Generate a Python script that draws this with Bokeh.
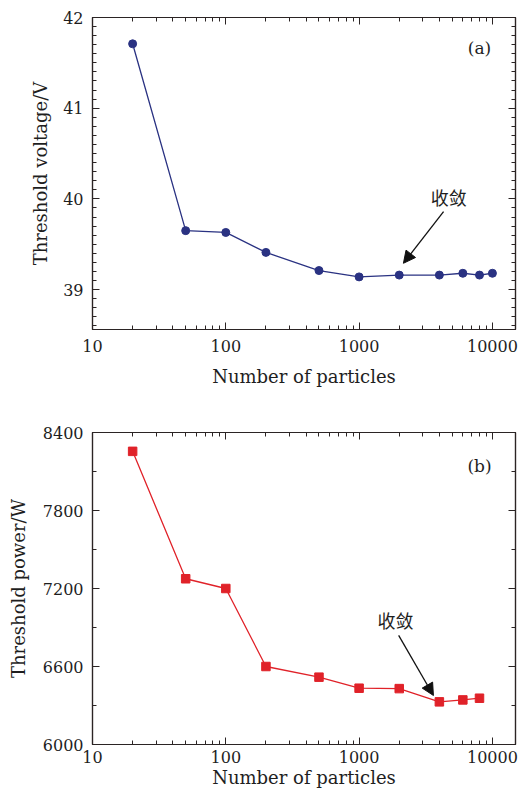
from bokeh.plotting import figure
from bokeh.models import LogAxis, LinearAxis, FixedTicker, Arrow, NormalHead, Label
from bokeh.layouts import column
from bokeh.embed import file_html
from bokeh.resources import INLINE

# ---- data ----
particles_a = [20, 50, 100, 200, 500, 1000, 2000, 4000, 6000, 8000, 10000]
voltage = [41.71, 39.65, 39.63, 39.41, 39.21, 39.14, 39.16, 39.16, 39.18, 39.16, 39.18]

particles_b = [20, 50, 100, 200, 500, 1000, 2000, 4000, 6000, 8000]
power = [8255, 7275, 7200, 6600, 6518, 6433, 6430, 6328, 6343, 6356]

x_major = [10, 100, 1000, 10000]
x_labels = {10: "10", 100: "100", 1000: "1000", 10000: "10000"}
x_minor = [m * d for d in [10, 100, 1000, 10000] for m in range(2, 10)]

ya_major = [39, 40, 41, 42]
ya_minor = [round(38.5 + 0.1 * i, 1) for i in range(0, 36)]
yb_major = [6000, 6600, 7200, 7800, 8400]
yb_minor = [6000 + 300 * i for i in range(0, 9)]

# annotation anchors (data coordinates)
arrow_a = (4300, 39.86, 2150, 39.29)
text_a = (4700, 40.02)
arrow_b = (1980, 6839, 3610, 6377)
text_b = (1875, 6954)
panel_a = (8000, 41.66)
panel_b = (8000, 8140)

AXC = "#2b2424"
TXT = "#1e1e1e"
SERIF = "DejaVu Serif"
CJK = "Noto Sans CJK SC"


def style_axis(ax, show_labels=True):
    ax.axis_line_color = AXC
    ax.axis_line_width = 1.2
    ax.major_tick_line_color = AXC
    ax.minor_tick_line_color = AXC
    ax.major_tick_in = 7
    ax.major_tick_out = 0
    ax.minor_tick_in = 4
    ax.minor_tick_out = 0
    ax.major_label_text_font = SERIF
    ax.major_label_text_font_size = "16px"
    ax.major_label_text_color = TXT
    ax.axis_label_text_font = SERIF
    ax.axis_label_text_font_size = "18px"
    ax.axis_label_text_font_style = "normal"
    ax.axis_label_text_color = TXT
    if not show_labels:
        ax.major_label_text_font_size = "1px"
        ax.major_label_text_color = None
        ax.major_label_standoff = 0


def make_fig(height, mb_top, mb_bottom, yrange, ymaj, ymin, ylabel,
             xstand, xlab_stand, ylab_stand):
    p = figure(width=526, height=height, x_axis_type="log", x_range=(10, 14900),
               y_range=yrange, output_backend="svg", toolbar_location=None,
               min_border_left=92, min_border_right=11, min_border_top=mb_top,
               min_border_bottom=mb_bottom)
    p.grid.visible = False
    p.outline_line_color = AXC
    p.outline_line_width = 1.2
    p.background_fill_color = "white"
    p.border_fill_color = "white"

    xt = FixedTicker(ticks=x_major, minor_ticks=x_minor)
    yt = FixedTicker(ticks=ymaj, minor_ticks=ymin)

    xa = p.xaxis[0]
    xa.ticker = xt
    xa.major_label_overrides = x_labels
    xa.axis_label = "Number of particles"
    style_axis(xa)
    xa.major_label_standoff = xstand
    xa.axis_label_standoff = xlab_stand

    ya = p.yaxis[0]
    ya.ticker = yt
    ya.axis_label = ylabel
    style_axis(ya)
    ya.major_label_standoff = 9
    ya.axis_label_standoff = ylab_stand

    top = LogAxis(ticker=xt)
    style_axis(top, show_labels=False)
    p.add_layout(top, "above")
    right = LinearAxis(ticker=yt)
    style_axis(right, show_labels=False)
    p.add_layout(right, "right")
    return p


p1 = make_fig(400, 17, 71, (38.56, 42.0), ya_major, ya_minor,
              "Threshold voltage/V", 10, 11, 9)
p1.line(particles_a, voltage, line_color="#2a3282", line_width=1.3)
p1.scatter(particles_a, voltage, marker="circle", size=8,
           fill_color="#2a3282", line_color="#2a3282")
p1.add_layout(Arrow(end=NormalHead(size=12, fill_color="#111111", line_color="#111111"),
                    x_start=arrow_a[0], y_start=arrow_a[1], x_end=arrow_a[2], y_end=arrow_a[3],
                    line_color="#111111", line_width=1.3))
p1.add_layout(Label(x=text_a[0], y=text_a[1], text="收敛", text_font=CJK,
                    text_font_size="18px", text_color=TXT, text_align="center",
                    text_baseline="middle"))
p1.add_layout(Label(x=panel_a[0], y=panel_a[1], text="(a)", text_font=SERIF,
                    text_font_size="17px", text_color=TXT, text_align="center",
                    text_baseline="middle"))

p2 = make_fig(393, 32, 49, (6000, 8400), yb_major, yb_minor,
              "Threshold power/W", 6, 1, 11)
p2.line(particles_b, power, line_color="#e02229", line_width=1.3)
p2.scatter(particles_b, power, marker="square", size=8.5,
           fill_color="#e02229", line_color="#e02229")
p2.add_layout(Arrow(end=NormalHead(size=12, fill_color="#111111", line_color="#111111"),
                    x_start=arrow_b[0], y_start=arrow_b[1], x_end=arrow_b[2], y_end=arrow_b[3],
                    line_color="#111111", line_width=1.3))
p2.add_layout(Label(x=text_b[0], y=text_b[1], text="收敛", text_font=CJK,
                    text_font_size="18px", text_color=TXT, text_align="center",
                    text_baseline="middle"))
p2.add_layout(Label(x=panel_b[0], y=panel_b[1], text="(b)", text_font=SERIF,
                    text_font_size="17px", text_color=TXT, text_align="center",
                    text_baseline="middle"))

layout = column(p1, p2, spacing=0)
open("out.html", "w").write(file_html(layout, INLINE))
